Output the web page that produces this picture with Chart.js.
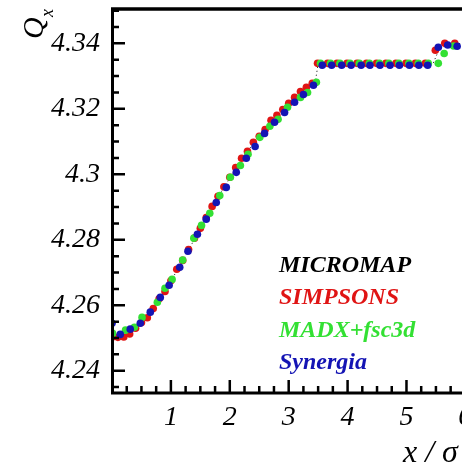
<!DOCTYPE html>
<html>
<head>
<meta charset="utf-8">
<script src="https://cdn.jsdelivr.net/npm/chart.js@4.4.1/dist/chart.umd.min.js"></script>
<style>
  html, body { margin: 0; padding: 0; background: #ffffff; overflow: hidden; }
  #wrap { width: 500px; height: 474px; }
</style>
</head>
<body>
<div id="wrap"><canvas id="c" width="500" height="474"></canvas></div>
<script>
// ---- data ----
const seriesNames = ['MICROMAP', 'SIMPSONS', 'MADX+fsc3d', 'Synergia'];

const micromapX = [0, 0.25, 0.5, 0.75, 1.0, 1.25, 1.5, 1.75, 2.0, 2.25, 2.5, 2.75, 3.0, 3.25, 3.45, 3.5, 5.45, 5.55, 5.7, 6.0];
const micromapQ = [4.2505, 4.2509, 4.2547, 4.2602, 4.2674, 4.2752, 4.2835, 4.2916, 4.2988, 4.3060, 4.3115, 4.3172, 4.3216, 4.3258, 4.3280, 4.3338, 4.3338, 4.3380, 4.3398, 4.3400];

const simpsonsX = [0.0, 0.1, 0.2, 0.3, 0.4, 0.5, 0.6, 0.7, 0.8, 0.9, 1.0, 1.1, 1.2, 1.3, 1.4, 1.5, 1.6, 1.7, 1.8, 1.9,
                   2.0, 2.1, 2.2, 2.3, 2.4, 2.5, 2.6, 2.7, 2.8, 2.9, 3.0, 3.1, 3.2, 3.3, 3.4,
                   3.49, 3.66, 3.82, 3.99, 4.16, 4.32, 4.49, 4.65, 4.82, 4.99, 5.15, 5.32, 5.49, 5.65, 5.82];
const simpsonsQ = [4.2502, 4.2502, 4.2503, 4.2512, 4.2530, 4.2547, 4.2562, 4.2590, 4.2620, 4.2642, 4.2675, 4.2710, 4.2737, 4.2770, 4.2805, 4.2835, 4.2868, 4.2902, 4.2933, 4.2962,
                   4.2991, 4.3021, 4.3049, 4.3070, 4.3098, 4.3116, 4.3137, 4.3165, 4.3180, 4.3198, 4.3217, 4.3235, 4.3253, 4.3266, 4.3278,
                   4.3339, 4.3339, 4.3339, 4.3339, 4.3339, 4.3339, 4.3339, 4.3339, 4.3339, 4.3339, 4.3339, 4.3339, 4.3379, 4.3400, 4.3400];

const madxX = [0.01, 0.23, 0.38, 0.51, 0.77, 0.90, 1.02, 1.20, 1.39, 1.52, 1.66, 1.83, 2.01, 2.18, 2.31, 2.51, 2.68, 2.82, 2.98, 3.20, 3.32, 3.47,
               3.54, 3.71, 3.87, 4.04, 4.20, 4.37, 4.54, 4.70, 4.87, 5.04, 5.20, 5.37, 5.54, 5.64, 5.80];
const madxQ = [4.2514, 4.2524, 4.2533, 4.2563, 4.2609, 4.2652, 4.2679, 4.2738, 4.2805, 4.2844, 4.2881, 4.2935, 4.2991, 4.3027, 4.3061, 4.3113, 4.3147, 4.3168, 4.3205, 4.3235, 4.3250, 4.3281,
               4.3339, 4.3339, 4.3339, 4.3339, 4.3339, 4.3339, 4.3339, 4.3339, 4.3339, 4.3339, 4.3339, 4.3339, 4.3339, 4.3369, 4.3392];

const synergiaX = [0.00, 0.14, 0.31, 0.48, 0.65, 0.82, 0.97, 1.15, 1.29, 1.45, 1.60, 1.77, 1.94, 2.11, 2.28, 2.43, 2.59, 2.76, 2.93, 3.10, 3.25, 3.42,
                   3.57, 3.73, 3.90, 4.06, 4.23, 4.38, 4.55, 4.72, 4.88, 5.05, 5.21, 5.36, 5.54, 5.70, 5.86];
const synergiaQ = [4.2545, 4.2511, 4.2527, 4.2545, 4.2579, 4.2624, 4.2661, 4.2716, 4.2765, 4.2817, 4.2863, 4.2914, 4.2960, 4.3006, 4.3049, 4.3085, 4.3125, 4.3159, 4.3189, 4.3220, 4.3244, 4.3272,
                   4.3333, 4.3333, 4.3333, 4.3333, 4.3333, 4.3333, 4.3333, 4.3333, 4.3333, 4.3333, 4.3333, 4.3333, 4.3388, 4.3395, 4.3391];

const yTickValues = [4.24, 4.26, 4.28, 4.30, 4.32, 4.34];
const yTickLabels = ['4.24', '4.26', '4.28', '4.3', '4.32', '4.34'];
const xTickValues = [1, 2, 3, 4, 5, 6];
const xTickLabels = ['1', '2', '3', '4', '5', '6'];

// ---- styling ----
const seriesColors = ['#000000', '#e01414', '#33e033', '#1414b4'];
const serif = '"Liberation Serif", "DejaVu Serif", serif';

function pts(xs, ys) { return xs.map((x, i) => ({ x: x, y: ys[i] })); }

const axesPlugin = {
  id: 'axesDecor',
  afterDraw(chart) {
    const ctx = chart.ctx;
    const a = chart.chartArea;
    const xs = chart.scales.x, ys = chart.scales.y;
    ctx.save();
    ctx.strokeStyle = '#000';
    ctx.lineCap = 'butt';
    // axis frame: left, bottom, top
    ctx.lineWidth = 3;
    ctx.beginPath();
    ctx.moveTo(a.left + 0.5, a.top - 1); ctx.lineTo(a.left + 0.5, a.bottom + 1.5);
    ctx.moveTo(a.left - 1, a.bottom); ctx.lineTo(a.right, a.bottom);
    ctx.stroke();
    ctx.lineWidth = 3.5;
    ctx.beginPath();
    ctx.moveTo(a.left - 1, a.top); ctx.lineTo(a.right, a.top);
    ctx.stroke();
    // y ticks (inside)
    ctx.lineWidth = 2.5;
    ctx.beginPath();
    for (let k = 0; ; k++) {
      const v = 4.235 + k * 0.005;
      if (v > ys.max) break;
      const py = ys.getPixelForValue(v);
      const major = yTickValues.some(t => Math.abs(t - v) < 1e-6);
      ctx.moveTo(a.left, py); ctx.lineTo(a.left + (major ? 13 : 7), py);
    }
    // x ticks (inside)
    for (let k = 1; ; k++) {
      const v = k * 0.25;
      if (v > xs.max) break;
      const px = xs.getPixelForValue(v);
      const major = xTickValues.some(t => Math.abs(t - v) < 1e-6);
      ctx.moveTo(px, a.bottom); ctx.lineTo(px, a.bottom - (major ? 13 : 7));
    }
    ctx.stroke();

    // legend text
    ctx.textAlign = 'left';
    ctx.textBaseline = 'alphabetic';
    ctx.font = 'italic bold 24px ' + serif;
    const base = [272, 304, 337, 369];
    for (let i = 0; i < seriesNames.length; i++) {
      ctx.fillStyle = seriesColors[i];
      ctx.fillText(seriesNames[i], 279, base[i]);
    }

    // x axis title
    ctx.fillStyle = '#000';
    ctx.font = 'italic 32px ' + serif;
    ctx.fillText('x / \u03C3', 403, 462);

    // y axis title (rotated Q with subscript x)
    ctx.save();
    ctx.translate(43, 39);
    ctx.rotate(-Math.PI / 2);
    ctx.font = 'italic 30px ' + serif;
    ctx.fillText('Q', 0, 0);
    ctx.font = 'italic 18px ' + serif;
    ctx.fillText('x', 22, 10);
    ctx.restore();
    ctx.restore();
  }
};

const tickFont = { family: serif, size: 28, style: 'italic' };

new Chart(document.getElementById('c'), {
  type: 'scatter',
  data: {
    datasets: [
      { label: seriesNames[3], data: pts(synergiaX, synergiaQ), backgroundColor: seriesColors[3], pointRadius: 3.8, pointBorderWidth: 0, order: 0 },
      { label: seriesNames[2], data: pts(madxX, madxQ), backgroundColor: seriesColors[2], pointRadius: 3.8, pointBorderWidth: 0, order: 1 },
      { label: seriesNames[1], data: pts(simpsonsX, simpsonsQ), backgroundColor: seriesColors[1], pointRadius: 3.8, pointBorderWidth: 0, order: 2 },
      { label: seriesNames[0], data: pts(micromapX, micromapQ), showLine: true, borderColor: '#000', borderWidth: 1, borderDash: [1, 3], pointRadius: 0, order: 3 }
    ]
  },
  options: {
    responsive: false,
    animation: false,
    devicePixelRatio: 1,
    layout: { padding: { top: 9, right: 0, bottom: 0, left: 0 } },
    plugins: { legend: { display: false }, tooltip: { enabled: false } },
    scales: {
      x: {
        type: 'linear', min: 0, max: 6.52,
        grid: { display: false, drawTicks: false },
        border: { display: false },
        afterFit(s) { s.height = 81; s.paddingLeft = 0; s.paddingRight = 0; },
        afterBuildTicks(s) { s.ticks = xTickValues.map(v => ({ value: v })); },
        ticks: { autoSkip: false, maxRotation: 0, padding: 8, color: '#000', font: tickFont,
                 callback: (v, i) => xTickLabels[i] }
      },
      y: {
        type: 'linear', min: 4.2332, max: 4.3505,
        grid: { display: false, drawTicks: false },
        border: { display: false },
        afterFit(s) { s.width = 112; s.paddingTop = 0; s.paddingBottom = 0; },
        afterBuildTicks(s) { s.ticks = yTickValues.map(v => ({ value: v })); },
        ticks: { autoSkip: false, padding: 12, color: '#000', font: tickFont,
                 callback: (v, i) => yTickLabels[i] }
      }
    }
  },
  plugins: [axesPlugin]
});
</script>
</body>
</html>
